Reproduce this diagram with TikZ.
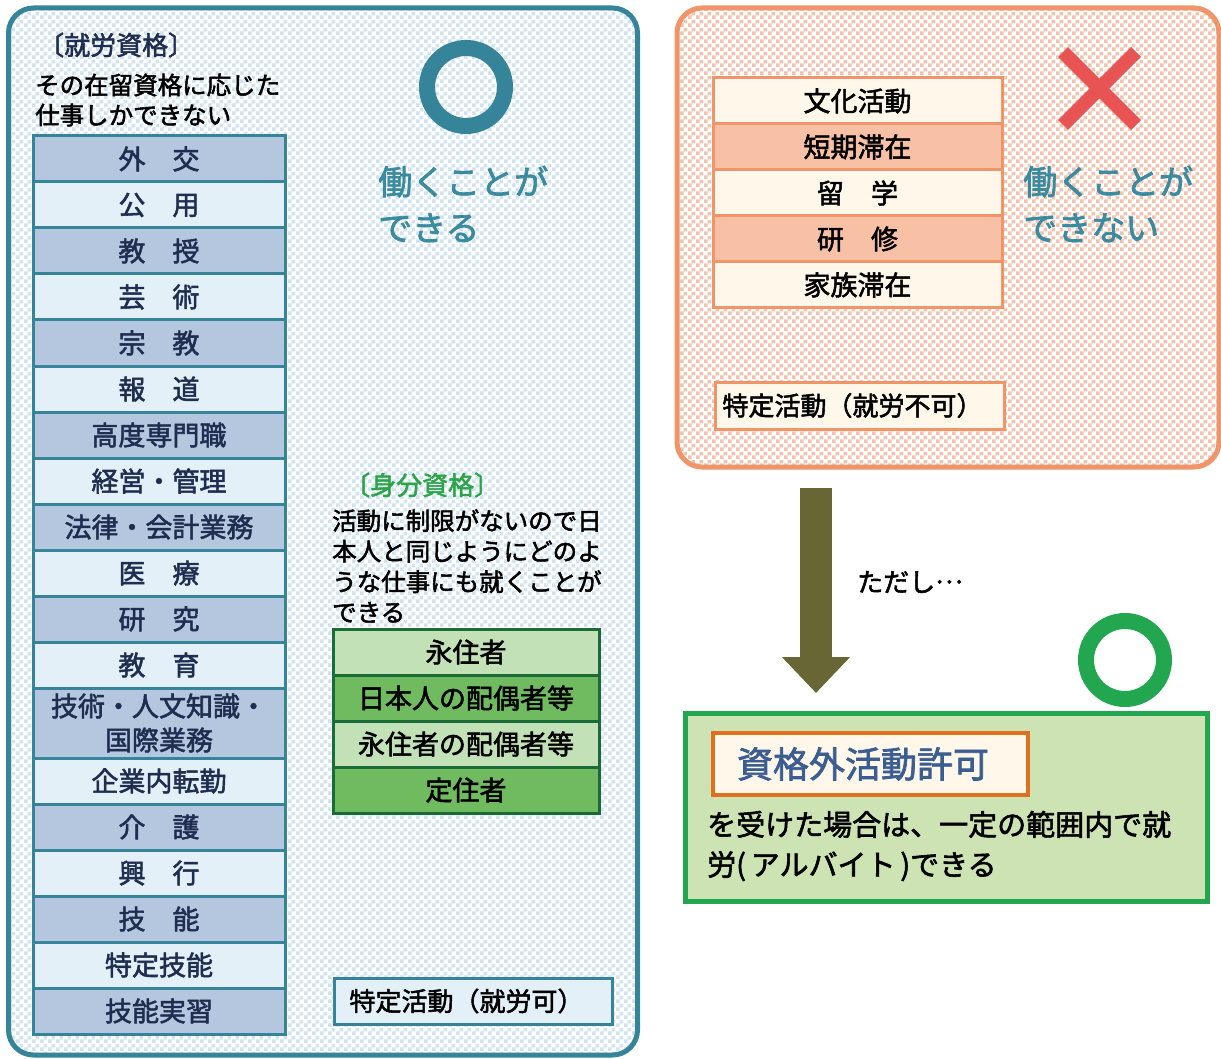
\documentclass[tikz,border=0pt]{standalone}
\usepackage{fontspec}
\setmainfont{Noto Sans CJK JP}[FakeBold=2]
\usepackage{tikz}
\usetikzlibrary{arrows.meta,patterns}

\pgfdeclarepatternformonly{checks}{\pgfqpoint{0pt}{0pt}}{\pgfqpoint{8pt}{8pt}}{\pgfqpoint{8pt}{8pt}}%
{\pgfpathrectangle{\pgfqpoint{0pt}{0pt}}{\pgfqpoint{4pt}{4pt}}%
 \pgfpathrectangle{\pgfqpoint{4pt}{4pt}}{\pgfqpoint{4pt}{4pt}}\pgfusepath{fill}}

\definecolor{tealline}{HTML}{35849A}
\definecolor{tealtext}{HTML}{3A8AA0}
\definecolor{bluecheck}{HTML}{CFE3F0}
\definecolor{rowdark}{HTML}{B5C6DF}
\definecolor{rowlight}{HTML}{E4F0F8}
\definecolor{navy}{HTML}{1F2D50}
\definecolor{grlight}{HTML}{C3E1B6}
\definecolor{grdark}{HTML}{70BB60}
\definecolor{grline}{HTML}{1B6B38}
\definecolor{grlabel}{HTML}{2AA448}
\definecolor{orline}{HTML}{F0956A}
\definecolor{orcheck}{HTML}{F4C2AC}
\definecolor{salmon}{HTML}{F8C1A6}
\definecolor{cream}{HTML}{FFF8EA}
\definecolor{xred}{HTML}{E85454}
\definecolor{olive}{HTML}{676634}
\definecolor{grmark}{HTML}{22A64F}
\definecolor{grfill}{HTML}{CDE3B3}
\definecolor{deeporange}{HTML}{E0701E}
\definecolor{permtext}{HTML}{3B5D92}

\newcommand\fsz[2]{\fontsize{#1}{#2}\selectfont}

\tikzset{
  bigbox/.style={draw, line width=5pt, rounded corners=25pt, preaction={fill=white}, pattern=checks},
  workrow/.style={draw=tealline, line width=3pt, minimum width=252pt, minimum height=46pt, text=navy, font=\fsz{27}{34}, align=center},
  famrow/.style={draw=grline, line width=3pt, minimum width=266pt, minimum height=46pt, font=\fsz{27}{34}},
  stayrow/.style={draw=orline, line width=3pt, minimum width=289pt, minimum height=46pt, font=\fsz{27}{34}},
  note/.style={anchor=west, align=left, inner sep=0pt},
}

\begin{document}
\begin{tikzpicture}[x=1pt,y=-1pt]
  \useasboundingbox (0,0) rectangle (1221,1059);
  % frames
  \node (lbox) at (323,531.5) [bigbox, draw=tealline, pattern color=bluecheck, minimum width=629pt, minimum height=1047pt] {};
  \node (rbox) at (948,237.5) [bigbox, draw=orline, pattern color=orcheck, minimum width=542pt, minimum height=459pt] {};
  \node (gbox) at (946,807) [draw=grmark, fill=grfill, line width=5pt, minimum width=522pt, minimum height=188pt] {};

  % work status
  \node (wt) at (38,45) [note, text=navy, font=\fsz{26}{30}] {〔就労資格〕};
  \node (wn) at (35,100) [note, font=\fsz{24.5}{30}] {その在留資格に応じた\\仕事しかできない};
  \node (w1) at (159,159) [workrow, fill=rowdark] {外　交};
  \node (w2) at (159,205) [workrow, fill=rowlight] {公　用};
  \node (w3) at (159,251) [workrow, fill=rowdark] {教　授};
  \node (w4) at (159,297) [workrow, fill=rowlight] {芸　術};
  \node (w5) at (159,343) [workrow, fill=rowdark] {宗　教};
  \node (w6) at (159,389) [workrow, fill=rowlight] {報　道};
  \node (w7) at (159,435) [workrow, fill=rowdark] {高度専門職};
  \node (w8) at (159,481) [workrow, fill=rowlight] {経営・管理};
  \node (w9) at (159,527) [workrow, fill=rowdark] {法律・会計業務};
  \node (w10) at (159,573) [workrow, fill=rowlight] {医　療};
  \node (w11) at (159,619) [workrow, fill=rowdark] {研　究};
  \node (w12) at (159,665) [workrow, fill=rowlight] {教　育};
  \node (w13) at (159,723) [workrow, fill=rowdark, minimum height=70pt] {技術・人文知識・\\国際業務};
  \node (w14) at (159,781) [workrow, fill=rowlight] {企業内転勤};
  \node (w15) at (159,827) [workrow, fill=rowdark] {介　護};
  \node (w16) at (159,873) [workrow, fill=rowlight] {興　行};
  \node (w17) at (159,919) [workrow, fill=rowdark] {技　能};
  \node (w18) at (159,965) [workrow, fill=rowlight] {特定技能};
  \node (w19) at (159,1011) [workrow, fill=rowdark] {技能実習};
  \node (wa) at (333,1001) [anchor=west, draw=tealline, fill=rowlight, line width=3pt, minimum height=46pt, text width=248pt, inner xsep=15pt, align=left, font=\fsz{26}{30}] {特定活動（就労可）};

  \draw[line width=16pt, tealline] (466,87) circle (39pt);
  \node (wok) at (378,204) [note, text=tealtext, font=\fsz{34}{46}] {働くことが\\できる};

  % family status
  \node (ft) at (344,485) [note, text=grlabel, font=\fsz{26}{30}] {〔身分資格〕};
  \node (fn) at (332,566) [note, font=\fsz{24.5}{30.5}] {活動に制限がないので日\\本人と同じようにどのよ\\うな仕事にも就くことが\\できる};
  \node (f1) at (466,652) [famrow, fill=grlight] {永住者};
  \node (f2) at (466,698) [famrow, fill=grdark] {日本人の配偶者等};
  \node (f3) at (466,744) [famrow, fill=grlight] {永住者の配偶者等};
  \node (f4) at (466,790) [famrow, fill=grdark] {定住者};

  % no work
  \node (n1) at (857.5,101) [stayrow, fill=cream] {文化活動};
  \node (n2) at (857.5,147) [stayrow, fill=salmon] {短期滞在};
  \node (n3) at (857.5,193) [stayrow, fill=cream] {留　学};
  \node (n4) at (857.5,239) [stayrow, fill=salmon] {研　修};
  \node (n5) at (857.5,285) [stayrow, fill=cream] {家族滞在};
  \node (na) at (714,405.5) [anchor=west, draw=orline, fill=cream, line width=3pt, minimum height=47pt, text width=275pt, inner xsep=7pt, align=left, font=\fsz{26}{30}] {特定活動（就労不可）};

  \draw[line width=14pt, xred] (1063,52) -- (1136,125);
  \draw[line width=14pt, xred] (1136,52) -- (1063,125);
  \node (nok) at (1023,204) [note, text=tealtext, font=\fsz{34}{46}] {働くことが\\できない};

  % but...
  \coordinate (a1) at (816,488);
  \coordinate (a2) at (816,693);
  \draw[line width=32pt, olive, -{Triangle[width=66pt,length=36pt]}] (a1) -- (a2);
  \node (but) at (857,582) [note, font=\fsz{26}{30}] {ただし\raisebox{0.32em}{…}};

  \draw[line width=16pt, grmark] (1125,660) circle (39pt);
  \node (perm) at (711,764) [anchor=west, draw=deeporange, fill=cream, line width=4pt, minimum height=62pt, text width=267pt, inner xsep=24pt, align=left, text=permtext, font=\fsz{36}{40}] {資格外活動許可};
  \node (pn) at (707,846) [note, font=\fsz{29}{40}] {を受けた場合は、一定の範囲内で就\\労(\,アルバイト\,)できる};
\end{tikzpicture}
\end{document}
